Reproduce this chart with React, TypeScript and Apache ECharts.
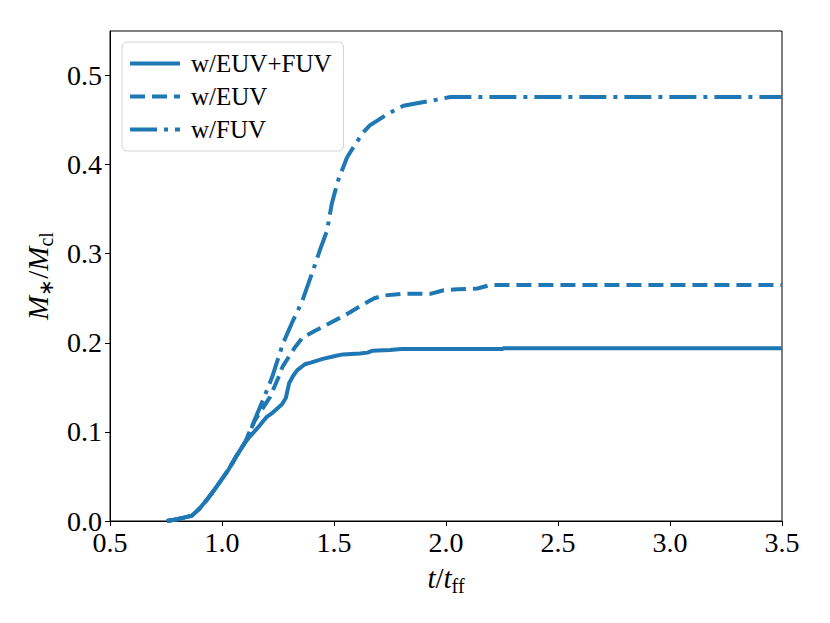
import React, { useEffect, useRef } from "react";
import * as echarts from "echarts";

const seriesNames = ["w/EUV+FUV", "w/EUV", "w/FUV"];

// shared early rise (all three runs overlap)
const sharedT = [0.754, 0.8, 0.866, 0.9, 0.933, 0.96, 0.991, 1.03, 1.067, 1.1];
const sharedM = [0.0, 0.002, 0.006, 0.014, 0.024, 0.033, 0.044, 0.058, 0.074, 0.087];

const bothT = [1.125, 1.161, 1.2, 1.228, 1.268, 1.285, 1.3, 1.318, 1.335, 1.37, 1.4, 1.45, 1.5, 1.54, 1.616, 1.65, 1.67, 1.75, 1.8, 2.0, 2.25, 2.26, 2.5, 3.5];
const bothM = [0.095, 0.105, 0.117, 0.122, 0.131, 0.138, 0.155, 0.163, 0.169, 0.176, 0.178, 0.182, 0.185, 0.187, 0.188, 0.189, 0.191, 0.192, 0.193, 0.193, 0.193, 0.194, 0.194, 0.194];

const euvT = [1.147, 1.214, 1.25, 1.27, 1.3, 1.326, 1.36, 1.42, 1.48, 1.57, 1.616, 1.68, 1.72, 1.8, 1.93, 1.99, 2.05, 2.14, 2.2, 3.5];
const euvM = [0.113, 0.139, 0.16, 0.173, 0.185, 0.195, 0.206, 0.214, 0.222, 0.234, 0.241, 0.25, 0.253, 0.255, 0.255, 0.259, 0.26, 0.261, 0.265, 0.265];

const fuvT = [1.14, 1.18, 1.223, 1.272, 1.317, 1.357, 1.406, 1.437, 1.469, 1.49, 1.518, 1.558, 1.585, 1.63, 1.66, 1.74, 1.81, 1.87, 1.96, 2.02, 3.5];
const fuvM = [0.11, 0.134, 0.161, 0.199, 0.225, 0.246, 0.281, 0.304, 0.326, 0.356, 0.382, 0.408, 0.419, 0.436, 0.444, 0.457, 0.466, 0.469, 0.473, 0.476, 0.476];

const xTicks = { min: 0.5, max: 3.5, interval: 0.5 };
const yTicks = { min: 0, max: 0.55, interval: 0.1 };

const pairs = (t: number[], m: number[]) => t.map((v, i) => [v, m[i]]);

const FONT = "Liberation Serif";
const BLUE = "#1f77b4";

export default function App() {
  const ref = useRef<HTMLDivElement>(null);
  useEffect(() => {
    if (!ref.current) return;
    const chart = echarts.init(ref.current, null, { renderer: "svg" });
    const lineStyles: any[] = [
      { color: BLUE, width: 4, type: "solid" },
      { color: BLUE, width: 4, type: [15, 7] },
      { color: BLUE, width: 4, type: [27, 7, 4, 7] },
    ];
    const datas = [
      pairs(sharedT, sharedM).concat(pairs(bothT, bothM)),
      pairs(sharedT, sharedM).concat(pairs(euvT, euvM)),
      pairs(sharedT, sharedM).concat(pairs(fuvT, fuvM)),
    ];
    const nameRich = {
      i: { fontFamily: FONT, fontStyle: "italic", fontSize: 29, color: "#000", lineHeight: 36 },
      r: { fontFamily: FONT, fontSize: 29, color: "#000", lineHeight: 36 },
      s: { fontFamily: FONT, fontSize: 20, color: "#000", verticalAlign: "bottom", lineHeight: 22 },
    };
    chart.setOption({
      animation: false,
      backgroundColor: "#fff",
      grid: {
        left: 102,
        right: 40,
        top: 23,
        bottom: 94,
        show: true,
        borderColor: "#000",
        borderWidth: 1,
        backgroundColor: "transparent",
      },
      legend: {
        orient: "vertical",
        left: 114,
        top: 34,
        padding: [9, 12, 9, 6],
        itemWidth: 50,
        itemHeight: 22,
        itemGap: 8,
        borderColor: "#d3d3d3",
        borderWidth: 1,
        borderRadius: 5,
        backgroundColor: "rgba(255,255,255,0.8)",
        itemStyle: { opacity: 0 },
        lineStyle: { width: 4 },
        textStyle: { fontFamily: FONT, fontSize: 25, color: "#000", padding: [0, 0, 0, 6] },
        data: seriesNames,
      },
      xAxis: {
        type: "value",
        min: xTicks.min,
        max: xTicks.max,
        interval: xTicks.interval,
        splitLine: { show: false },
        axisLine: { show: true, onZero: false, lineStyle: { color: "#000", width: 1 } },
        axisTick: { show: true, inside: false, length: 5, lineStyle: { color: "#000" } },
        axisLabel: {
          color: "#000",
          fontFamily: FONT,
          fontSize: 28,
          margin: 7,
          formatter: (v: number) => v.toFixed(1),
        },
        name: "{i|t}{r|/}{i|t}{s|ff}",
        nameLocation: "middle",
        nameGap: 39,
        nameTextStyle: { rich: nameRich },
      },
      yAxis: {
        type: "value",
        min: yTicks.min,
        max: yTicks.max,
        interval: yTicks.interval,
        splitLine: { show: false },
        axisLine: { show: true, onZero: false, lineStyle: { color: "#000", width: 1 } },
        axisTick: { show: true, inside: false, length: 5, lineStyle: { color: "#000" } },
        axisLabel: {
          color: "#000",
          fontFamily: FONT,
          fontSize: 28,
          margin: 8,
          showMaxLabel: false,
          formatter: (v: number) => (Math.abs(v * 10 - Math.round(v * 10)) < 1e-6 ? v.toFixed(1) : ""),
        },
        name: "{i|M}{s|∗}{r|/}{i|M}{s|cl}",
        nameLocation: "middle",
        nameGap: 50,
        nameTextStyle: { rich: nameRich },
      },
      series: seriesNames.map((name, i) => ({
        name,
        type: "line",
        data: datas[i],
        symbol: "none",
        showSymbol: false,
        lineStyle: lineStyles[i],
        itemStyle: { color: BLUE },
        z: 3 - i,
      })),
    });
    return () => chart.dispose();
  }, []);
  return <div ref={ref} style={{ width: 814, height: 607 }} />;
}
